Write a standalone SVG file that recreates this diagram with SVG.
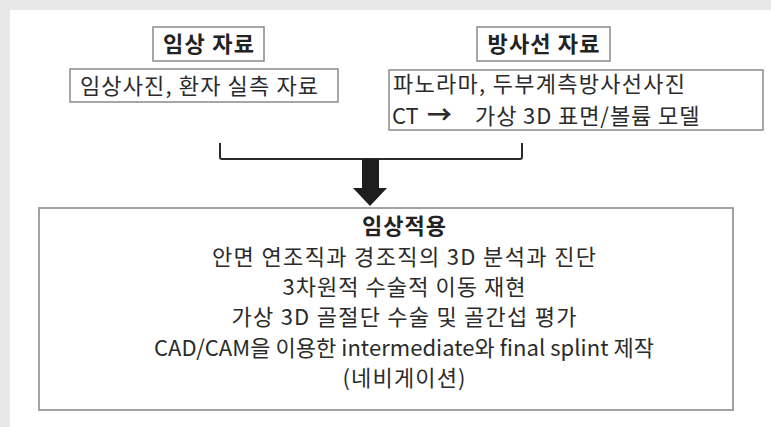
<svg xmlns="http://www.w3.org/2000/svg" width="771" height="427" viewBox="0 0 771 427">
  <style>
    .t { font-family: "Noto Sans CJK KR", "Noto Sans", sans-serif; font-size: 22px; fill: #2b2b2b; }
    .b { font-weight: bold; fill: #222222; }
    .m { text-anchor: middle; }
    .box { fill: #ffffff; stroke: #8a8a8a; stroke-width: 1.5; }
    .main { fill: #ffffff; stroke: #9a9a9a; stroke-width: 1.8; }
  </style>
  <rect x="0" y="0" width="771" height="427" fill="#e7e8e7"/>
  <rect x="10" y="10" width="761" height="417" fill="#ffffff"/>

  <g id="clinical-title">
    <rect class="box" x="153" y="27" width="111" height="34"/>
    <text class="t b m" x="208.5" y="52" textLength="91">임상 자료</text>
  </g>
  <g id="clinical-data">
    <rect class="box" x="70" y="69" width="268" height="33"/>
    <text class="t" x="80" y="94" textLength="238">임상사진, 환자 실측 자료</text>
  </g>
  <g id="radiology-title">
    <rect class="box" x="477" y="27" width="133" height="34"/>
    <text class="t b m" x="543.5" y="52" textLength="112">방사선 자료</text>
  </g>
  <g id="radiology-data">
    <rect class="box" x="389" y="70" width="374" height="60"/>
    <text class="t" x="393" y="92" textLength="292">파노라마, 두부계측방사선사진</text>
    <text class="t" x="392" y="124">CT <tspan x="427" font-weight="bold" font-size="25">→</tspan> <tspan x="475" letter-spacing="0.9">가상 3D 표면/볼륨 모델</tspan></text>
  </g>

  <g id="connectors">
    <path d="M220,143 V157 Q220,159 222,159 H520 Q522,159 522,157 V143" fill="none" stroke="#2a2a2a" stroke-width="2"/>
    <rect x="362" y="159" width="17" height="30" fill="#1e1e1e"/>
    <polygon points="353,188 387,188 370,206" fill="#1e1e1e"/>
  </g>

  <g id="clinical-application">
    <rect class="main" x="39" y="208" width="694" height="202"/>
    <text class="t b m" x="404" y="234" textLength="84">임상적용</text>
    <text class="t m" x="404" y="265" textLength="384">안면 연조직과 경조직의 3D 분석과 진단</text>
    <text class="t m" x="404" y="295" textLength="243">3차원적 수술적 이동 재현</text>
    <text class="t m" x="404" y="325" textLength="345">가상 3D 골절단 수술 및 골간섭 평가</text>
    <text class="t m" x="404" y="356" textLength="500">CAD/CAM을 이용한 intermediate와 final splint 제작</text>
    <text class="t m" x="404" y="386" textLength="123">(네비게이션)</text>
  </g>
</svg>
